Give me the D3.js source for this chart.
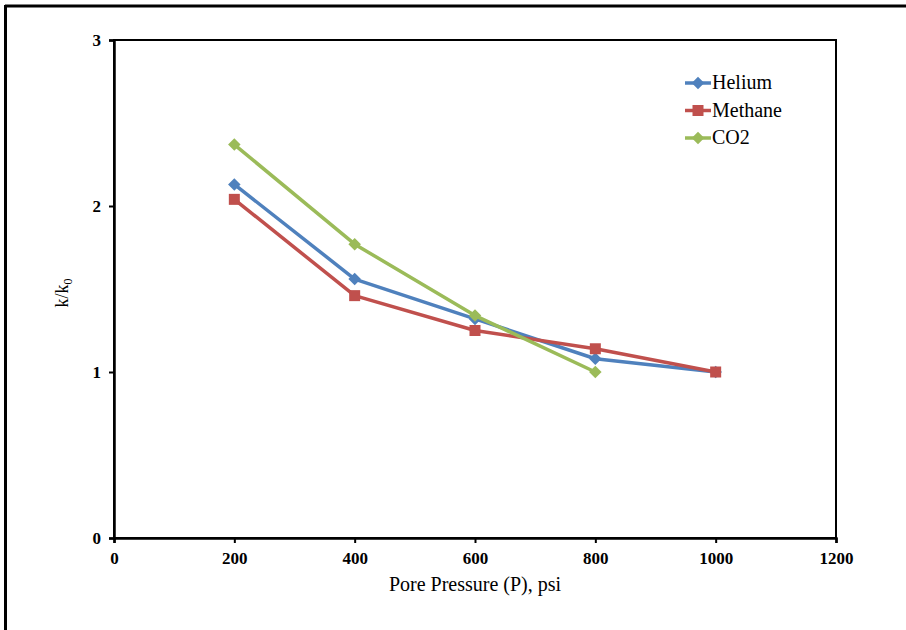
<!DOCTYPE html>
<html>
<head>
<meta charset="utf-8">
<script src="https://cdn.jsdelivr.net/npm/d3@7"></script>
<style>
  body { margin: 0; background: #fff; }
  svg { display: block; font-family: "Liberation Serif", "Times New Roman", serif; }
</style>
</head>
<body>
<div id="chart"></div>
<script>
// values
const xTicks = [0, 200, 400, 600, 800, 1000, 1200];
const yTicks = [0, 1, 2, 3];

const heliumX = [200, 400, 600, 800, 1000];
const heliumY = [2.13, 1.56, 1.32, 1.08, 1.0];

const methaneX = [200, 400, 600, 800, 1000];
const methaneY = [2.04, 1.46, 1.25, 1.14, 1.0];

const co2X = [200, 400, 600, 800];
const co2Y = [2.37, 1.77, 1.34, 1.0];

const series = [
  { name: 'Helium', xs: heliumX, ys: heliumY, color: '#4F81BD', marker: 'diamond' },
  { name: 'Methane', xs: methaneX, ys: methaneY, color: '#C0504D', marker: 'square' },
  { name: 'CO2', xs: co2X, ys: co2Y, color: '#9BBB59', marker: 'diamond' }
];

const width = 906, height = 630;
const margin = { left: 114, top: 40, right: 70, bottom: 92 };
const w = width - margin.left - margin.right;
const h = height - margin.top - margin.bottom;

const svg = d3.select('#chart').append('svg')
  .attr('width', width)
  .attr('height', height)

// outer frame (only top and left edges visible)
svg.append('line').attr('x1', 5).attr('x2', width).attr('y1', 6).attr('y2', 6)
  .attr('stroke', '#000').attr('stroke-width', 3)
svg.append('line').attr('x1', 5.5).attr('x2', 5.5).attr('y1', 5).attr('y2', height)
  .attr('stroke', '#000').attr('stroke-width', 3)

const g = svg.append('g')
  .attr('transform', 'translate(' + margin.left + ',' + margin.top + ')')

const x = d3.scaleLinear().domain([0, 1200]).range([0, w])
const y = d3.scaleLinear().domain([0, 3]).range([h, 0])

// plot box
g.append('rect')
  .attr('width', w).attr('height', h)
  .attr('fill', 'none').attr('stroke', '#000').attr('stroke-width', 2)

const xAxis = g.append('g')
  .attr('transform', 'translate(0,' + h + ')')
  .call(d3.axisBottom(x).tickValues(xTicks).tickSize(5).tickPadding(9).tickFormat(d3.format('d')))
const yAxis = g.append('g')
  .call(d3.axisLeft(y).tickValues(yTicks).tickSize(5).tickPadding(8).tickFormat(d3.format('d')))

for (const ax of [xAxis, yAxis]) {
  ax.select('.domain').attr('stroke-width', 2.5)
  ax.selectAll('.tick line').attr('stroke-width', 2)
  ax.selectAll('.tick text')
    .style('font-size', '17px')
    .style('font-weight', 'bold')
    .style('font-family', '"Liberation Serif", serif')
    .attr('fill', '#000')
}

// axis titles
svg.append('text')
  .attr('x', margin.left + x(600))
  .attr('y', 591)
  .attr('text-anchor', 'middle')
  .style('font-size', '20px')
  .text('Pore Pressure (P), psi')

const yl = svg.append('text')
  .attr('transform', 'translate(68,' + (margin.top + h / 2 + 4) + ') rotate(-90)')
  .attr('text-anchor', 'middle')
  .style('font-size', '18px')
yl.append('tspan').text('k/k')
yl.append('tspan').attr('dy', 4).style('font-size', '12px').text('0')

const line = d3.line()
  .x((d) => x(d[0]))
  .y((d) => y(d[1]))

const drawMarker = (sel, type, color, cx, cy) => {
  if (type === 'square') {
    sel.append('rect')
      .attr('x', cx - 5.5).attr('y', cy - 5.5)
      .attr('width', 11).attr('height', 11)
      .attr('fill', color)
  } else {
    sel.append('path')
      .attr('d', d3.symbol().type(d3.symbolDiamond2).size(100)())
      .attr('transform', 'translate(' + cx + ',' + cy + ')')
      .attr('fill', color)
  }
}

series.forEach((s) => {
  const pts = s.xs.map((v, i) => [v, s.ys[i]])
  g.append('path')
    .datum(pts)
    .attr('d', line)
    .attr('fill', 'none')
    .attr('stroke', s.color)
    .attr('stroke-width', 3.5)
    .attr('stroke-linejoin', 'round')
  const mk = g.append('g')
  pts.forEach((p) => drawMarker(mk, s.marker, s.color, x(p[0]), y(p[1])))
})

// legend
const legend = svg.append('g').attr('transform', 'translate(685,83)')
series.forEach((s, i) => {
  const row = legend.append('g').attr('transform', 'translate(0,' + (i * 27.5) + ')')
  row.append('line').attr('x1', 0).attr('x2', 26).attr('y1', 0).attr('y2', 0)
    .attr('stroke', s.color).attr('stroke-width', 3.5)
  drawMarker(row, s.marker, s.color, 13, 0)
  row.append('text')
    .attr('x', 27).attr('y', 6)
    .style('font-size', '20px')
    .text(s.name)
})
</script>
</body>
</html>
